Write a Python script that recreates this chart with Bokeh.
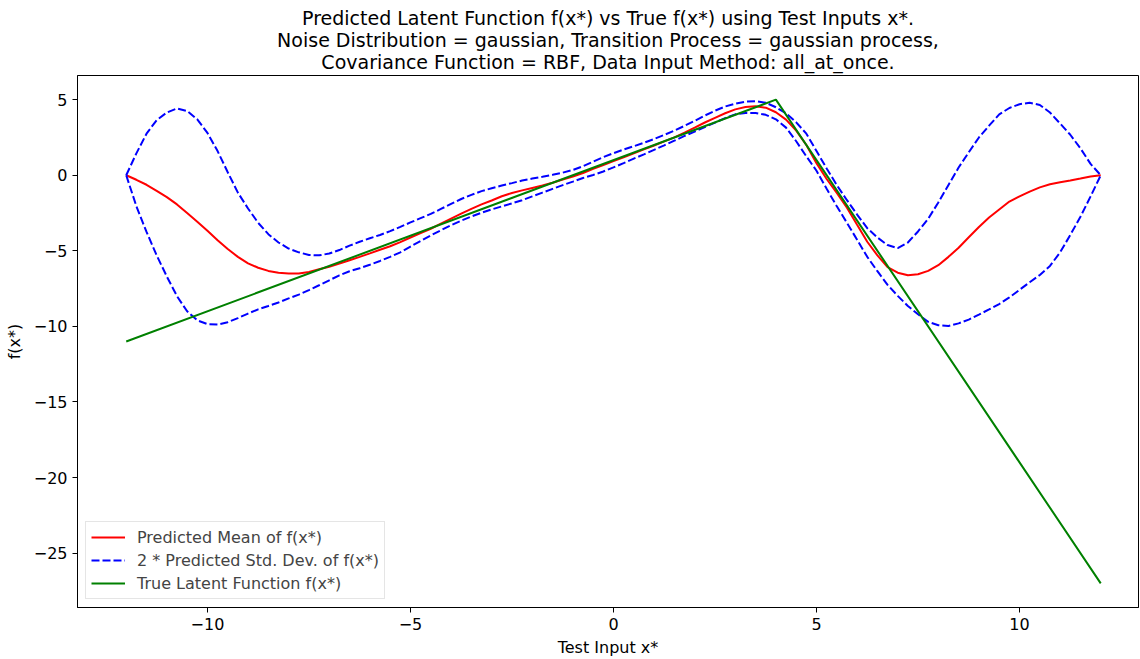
from bokeh.plotting import figure
from bokeh.models import Range1d, FixedTicker, Title, Legend, LegendItem
from bokeh.embed import file_html
from bokeh.resources import INLINE

# ---- data ----
x_test = [-12.0, -11.75, -11.5, -11.25, -11.0, -10.75, -10.5, -10.25, -10.0, -9.75, -9.5, -9.25,
          -9.0, -8.75, -8.5, -8.25, -8.0, -7.75, -7.5, -7.25, -7.0, -6.75, -6.5, -6.25,
          -6.0, -5.75, -5.5, -5.25, -5.0, -4.75, -4.5, -4.25, -4.0, -3.75, -3.5, -3.25,
          -3.0, -2.75, -2.5, -2.25, -2.0, -1.75, -1.5, -1.25, -1.0, -0.75, -0.5, -0.25,
          0.0, 0.25, 0.5, 0.75, 1.0, 1.25, 1.5, 1.75, 2.0, 2.25, 2.5, 2.75,
          3.0, 3.25, 3.5, 3.75, 4.0, 4.25, 4.5, 4.75, 5.0, 5.25, 5.5, 5.75,
          6.0, 6.25, 6.5, 6.75, 7.0, 7.25, 7.5, 7.75, 8.0, 8.25, 8.5, 8.75,
          9.0, 9.25, 9.5, 9.75, 10.0, 10.25, 10.5, 10.75, 11.0, 11.25, 11.5, 11.75, 12.0]

pred_mean = [0.0, -0.3, -0.63, -1.03, -1.45, -1.93, -2.5, -3.07, -3.67, -4.3, -4.88, -5.4,
             -5.83, -6.12, -6.33, -6.45, -6.5, -6.5, -6.4, -6.22, -6.05, -5.85, -5.62, -5.4,
             -5.17, -4.93, -4.7, -4.42, -4.12, -3.83, -3.54, -3.2, -2.87, -2.54, -2.22, -1.93,
             -1.67, -1.39, -1.17, -1.0, -0.84, -0.68, -0.5, -0.28, -0.08, 0.15, 0.42, 0.68,
             0.94, 1.19, 1.45, 1.71, 1.97, 2.24, 2.51, 2.82, 3.15, 3.49, 3.8, 4.1,
             4.36, 4.51, 4.56, 4.47, 4.17, 3.68, 2.95, 2.0, 0.8, -0.25, -1.17, -2.15,
             -3.28, -4.4, -5.3, -6.08, -6.45, -6.62, -6.55, -6.33, -5.95, -5.4, -4.8, -4.1,
             -3.42, -2.8, -2.27, -1.74, -1.4, -1.08, -0.8, -0.6, -0.47, -0.35, -0.22, -0.08, 0.0]

upper_2sd = [0.0, 1.45, 2.75, 3.65, 4.15, 4.42, 4.25, 3.7, 2.8, 1.6, 0.2, -1.15,
             -2.2, -3.15, -3.9, -4.45, -4.85, -5.1, -5.28, -5.3, -5.18, -4.95, -4.66, -4.4,
             -4.17, -3.95, -3.7, -3.42, -3.12, -2.84, -2.56, -2.23, -1.9, -1.57, -1.3, -1.05,
             -0.86, -0.68, -0.52, -0.35, -0.22, -0.1, 0.03, 0.17, 0.35, 0.6, 0.9, 1.2,
             1.46, 1.7, 1.92, 2.15, 2.4, 2.67, 2.95, 3.27, 3.6, 3.95, 4.27, 4.55,
             4.74, 4.87, 4.9, 4.8, 4.5, 4.1, 3.5, 2.75, 1.6, 0.45, -0.65, -1.65,
             -2.6, -3.5, -4.12, -4.62, -4.82, -4.45, -3.72, -2.88, -1.8, -0.64, 0.51, 1.52,
             2.5, 3.28, 4.03, 4.45, 4.7, 4.8, 4.65, 4.15, 3.42, 2.68, 1.78, 0.75, 0.0]

lower_2sd = [0.0, -2.05, -3.75, -5.3, -6.7, -8.0, -9.0, -9.6, -9.85, -9.88, -9.72, -9.45,
             -9.15, -8.87, -8.65, -8.42, -8.15, -7.9, -7.6, -7.28, -6.95, -6.62, -6.35, -6.15,
             -5.92, -5.67, -5.4, -5.1, -4.72, -4.35, -3.98, -3.64, -3.31, -3.0, -2.73, -2.48,
             -2.26, -2.06, -1.86, -1.65, -1.4, -1.15, -0.9, -0.65, -0.42, -0.18, 0.02, 0.25,
             0.52, 0.8, 1.1, 1.38, 1.68, 1.98, 2.29, 2.6, 2.89, 3.19, 3.48, 3.78,
             4.03, 4.12, 4.12, 4.0, 3.7, 3.15, 2.25, 1.25, 0.3, -0.9, -2.05, -3.15,
             -4.27, -5.4, -6.35, -7.25, -7.98, -8.65, -9.2, -9.7, -9.92, -9.97, -9.8, -9.55,
             -9.22, -8.88, -8.52, -8.08, -7.58, -7.08, -6.6, -6.0, -5.1, -3.95, -2.75, -1.4, 0.0]

true_x = [-12.0, 4.0, 12.0]
true_f = [-11.0, 5.0, -27.0]

x_ticks = [-10, -5, 0, 5, 10]
y_ticks = [5, 0, -5, -10, -15, -20, -25]

title_lines = [
    "Predicted Latent Function f(x*) vs True f(x*) using Test Inputs x*.",
    "Noise Distribution = gaussian, Transition Process = gaussian process,",
    "Covariance Function = RBF, Data Input Method: all_at_once.",
]
legend_labels = ["Predicted Mean of f(x*)", "2 * Predicted Std. Dev. of f(x*)",
                 "True Latent Function f(x*)"]

FONT = "DejaVu Sans"

p = figure(width=1140, height=659, output_backend="svg", toolbar_location=None,
           title=None, x_range=Range1d(-13.2, 12.93), y_range=Range1d(-28.6, 6.6),
           min_border_left=77, min_border_right=2, min_border_top=75, min_border_bottom=52)

p.background_fill_color = "white"
p.border_fill_color = "white"
p.outline_line_color = "black"
p.outline_line_width = 1
p.xgrid.visible = False
p.ygrid.visible = False

p.add_layout(Title(text="\n".join(title_lines), align="center", text_align="center",
                   text_font=FONT, text_font_size="19px", text_line_height=1.02,
                   text_font_style="normal", text_color="black", standoff=4), "above")

for ax, ticks in ((p.xaxis[0], x_ticks), (p.yaxis[0], y_ticks)):
    ax.ticker = FixedTicker(ticks=ticks)
    ax.major_label_overrides = {t: str(t).replace("-", "\u2212") for t in ticks}
    ax.major_tick_out = 5
    ax.major_tick_in = 0
    ax.minor_tick_line_color = None
    ax.axis_line_color = "black"
    ax.major_tick_line_color = "black"
    ax.major_label_text_font = FONT
    ax.major_label_text_font_size = "16px"
    ax.major_label_text_color = "black"
    ax.axis_label_text_font = FONT
    ax.axis_label_text_font_size = "16px"
    ax.axis_label_text_font_style = "normal"
    ax.axis_label_text_color = "black"
    ax.major_label_standoff = 5

p.xaxis.axis_label = "Test Input x*"
p.yaxis.axis_label = "f(x*)"
p.xaxis.axis_label_standoff = 5
p.yaxis.axis_label_standoff = 7

r_mean = p.line(x_test, pred_mean, line_color="#ff0000", line_width=2)
r_up = p.line(x_test, upper_2sd, line_color="#0000ff", line_width=2, line_dash="8 3")
r_lo = p.line(x_test, lower_2sd, line_color="#0000ff", line_width=2, line_dash="8 3")
r_true = p.line(true_x, true_f, line_color="#008000", line_width=2)

legend = Legend(items=[LegendItem(label=legend_labels[0], renderers=[r_mean]),
                       LegendItem(label=legend_labels[1], renderers=[r_up]),
                       LegendItem(label=legend_labels[2], renderers=[r_true])],
                location="bottom_left", margin=8, padding=5, spacing=3,
                glyph_width=34, glyph_height=20, label_height=20, label_standoff=12,
                label_text_font=FONT, label_text_font_size="16px",
                border_line_color="#cccccc", border_line_width=1,
                background_fill_color="white", background_fill_alpha=0.8)
p.add_layout(legend)

open("out.html", "w").write(file_html(p, INLINE))
